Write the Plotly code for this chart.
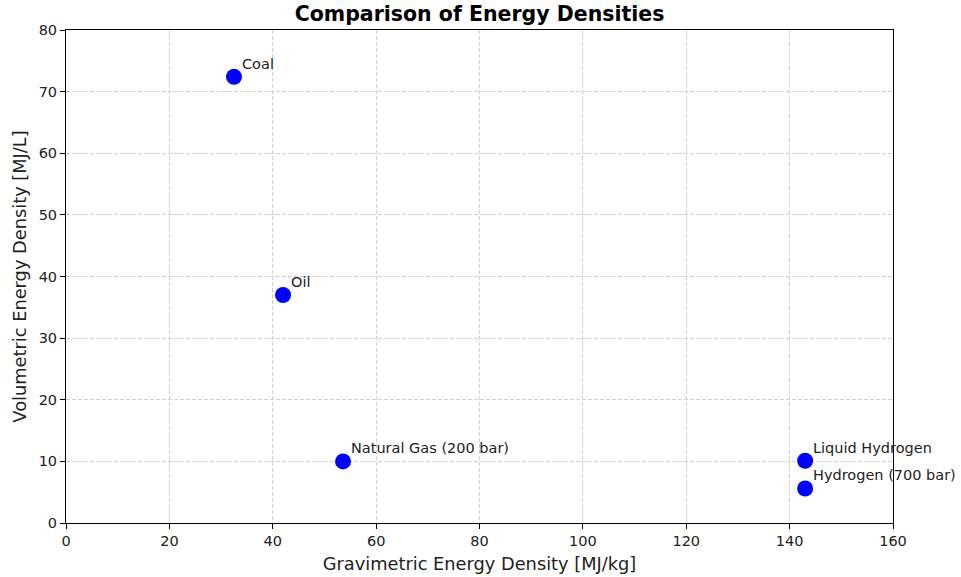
import plotly.graph_objects as go

fuels = ["Coal", "Oil", "Natural Gas (200 bar)", "Liquid Hydrogen", "Hydrogen (700 bar)"]
gravimetric = [32.5, 42.0, 53.6, 143.0, 143.0]
volumetric = [72.4, 37.0, 10.0, 10.1, 5.6]

x_ticks = [0, 20, 40, 60, 80, 100, 120, 140, 160]
y_ticks = [0, 10, 20, 30, 40, 50, 60, 70, 80]

font = "DejaVu Sans"

fig = go.Figure()
fig.add_trace(go.Scatter(
    x=gravimetric, y=volumetric, mode="markers",
    marker=dict(color="blue", size=16, line=dict(width=0)),
    hoverinfo="skip", showlegend=False, cliponaxis=False,
))

for name, gx, vy in zip(fuels, gravimetric, volumetric):
    fig.add_annotation(
        x=gx, y=vy, text=name, showarrow=False,
        xanchor="left", yanchor="bottom", xshift=6, yshift=3,
        font=dict(family=font, size=14.5, color="#222222"),
    )

axis_common = dict(
    showline=True, linecolor="black", linewidth=1, mirror=True,
    ticks="outside", ticklen=5, tickcolor="black", tickwidth=1,
    showgrid=True, gridcolor="#d0d0d0", griddash="4px,2px", gridwidth=1,
    zeroline=False, automargin=False,
    tickfont=dict(family=font, size=14.5, color="#222222"),
)

fig.update_layout(
    width=961, height=577,
    margin=dict(l=66, r=68, t=30, b=54),
    plot_bgcolor="white", paper_bgcolor="white",
    title=dict(text="<b>Comparison of Energy Densities</b>", x=0.499, xanchor="center",
               y=1 - 14 / 577, yanchor="middle",
               font=dict(family=font, size=20.5, color="black")),
    xaxis=dict(range=[0, 160], tickvals=x_ticks,
               title=dict(text="Gravimetric Energy Density [MJ/kg]",
                          font=dict(family=font, size=17.8, color="#222222"), standoff=9),
               **axis_common),
    yaxis=dict(range=[0, 80], tickvals=y_ticks,
               title=dict(text="Volumetric Energy Density [MJ/L]",
                          font=dict(family=font, size=17.8, color="#222222"), standoff=7),
               **axis_common),
)

fig.write_html("out.html", config={"displayModeBar": False},
               post_script="document.body.style.margin='0';")
